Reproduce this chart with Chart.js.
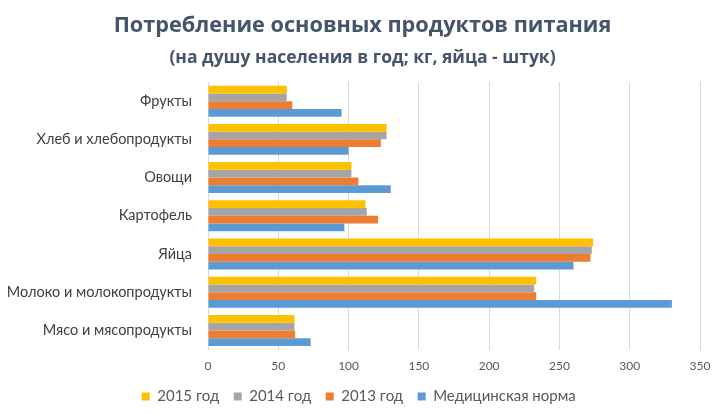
<!DOCTYPE html>
<html>
<head>
<meta charset="utf-8">
<script src="https://cdn.jsdelivr.net/npm/chart.js@4"></script>
<style>
  html, body { margin: 0; padding: 0; background: #fff; }
  #wrap { width: 725px; height: 414px; }
</style>
</head>
<body>
<div id="wrap"><canvas id="myChart" width="725" height="414"></canvas></div>
<script>
const categories = ['Фрукты', 'Хлеб и хлебопродукты', 'Овощи', 'Картофель', 'Яйца', 'Молоко и молокопродукты', 'Мясо и мясопродукты']
const y2015 = [56, 127, 102, 112, 274, 233.5, 61.5]
const y2014 = [56, 127, 102, 113, 273, 232, 61.5]
const y2013 = [60, 123, 107, 121, 272, 233.5, 62]
const ynorm = [95, 100, 130, 97, 260, 330, 73]
const xticks = [0, 50, 100, 150, 200, 250, 300, 350]

var ctx = document.getElementById('myChart').getContext('2d');
var myChart = new Chart(ctx, {
    type: 'bar',
    data: {
        labels: categories,
        datasets: [
            { label: '2015 год', data: y2015, backgroundColor: '#FFC000' },
            { label: '2014 год', data: y2014, backgroundColor: '#A5A5A5' },
            { label: '2013 год', data: y2013, backgroundColor: '#ED7D31' },
            { label: 'Медицинская норма', data: ynorm, backgroundColor: '#5B9BD5' }
        ]
    },
    options: {
        indexAxis: 'y',
        responsive: false,
        animation: false,
        devicePixelRatio: 1,
        datasets: { bar: { categoryPercentage: 0.81, barPercentage: 1.0 } },
        layout: { padding: { left: 0, right: 0, top: 0, bottom: 0 } },
        plugins: {
            title: {
                display: true,
                text: 'Потребление основных продуктов питания',
                color: '#44546A',
                font: { family: 'Open Sans', size: 21.7, weight: 'bold' },
                padding: { top: 13, bottom: 8 }
            },
            subtitle: {
                display: true,
                text: '(на душу населения в год; кг, яйца - штук)',
                color: '#44546A',
                font: { family: 'Open Sans', size: 17.5, weight: 'bold' },
                padding: { top: 0, bottom: 14 }
            },
            legend: {
                position: 'bottom',
                labels: {
                    boxWidth: 8, boxHeight: 8, padding: 7,
                    color: '#595959',
                    font: { family: 'Lato', size: 15 },
                    // small gap padding keeps the legend low, so widen items with a trailing space
                    generateLabels: (chart) => Chart.defaults.plugins.legend.labels.generateLabels(chart)
                        .map(l => { l.text = l.text + '\u2002'; return l })
                }
            },
            tooltip: { enabled: false }
        },
        scales: {
            x: {
                min: 0, max: 350,
                afterBuildTicks: (scale) => { scale.ticks = xticks.map(v => ({ value: v })) },
                afterFit: (scale) => { scale.paddingRight = 25 },
                grid: { color: '#D9D9D9', drawTicks: false },
                border: { display: false },
                ticks: { color: '#595959', padding: 9, font: { family: 'Lato', size: 12 } }
            },
            y: {
                grid: { display: false },
                border: { display: true, color: '#D9D9D9' },
                afterFit: (scale) => { scale.width = 208 },
                ticks: { color: '#404040', padding: 8, font: { family: 'Lato', size: 14.5 } }
            }
        }
    }
});
</script>
</body>
</html>
